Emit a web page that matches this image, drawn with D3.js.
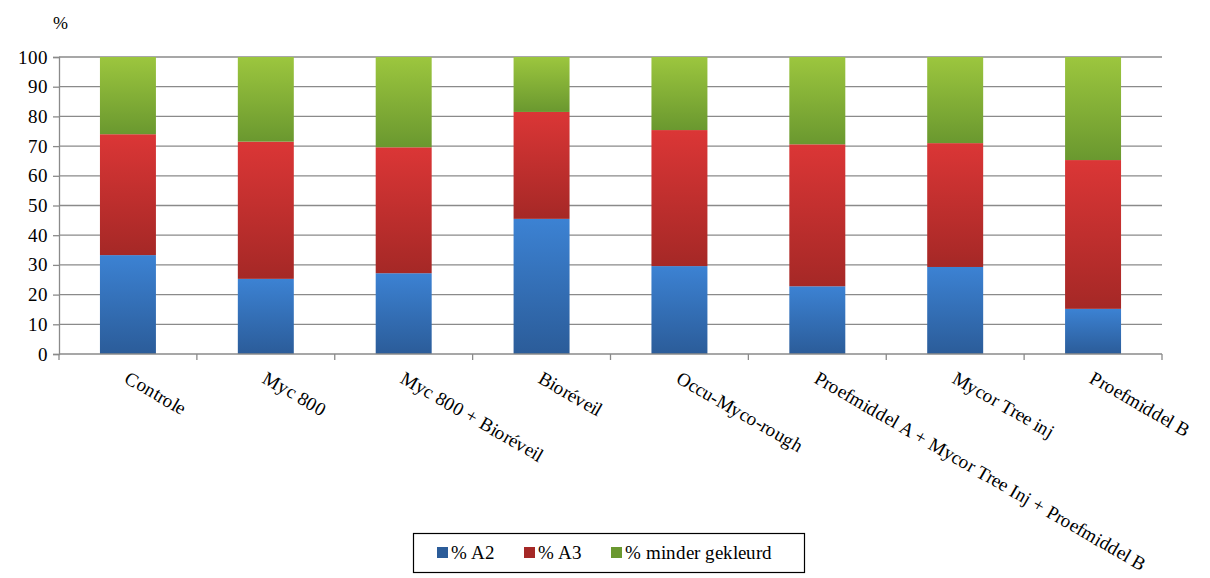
<!DOCTYPE html>
<html><head><meta charset="utf-8">
<script src="https://cdn.jsdelivr.net/npm/d3@7"></script>
<style>
@font-face{font-family:"ChartSerif";src:local("Liberation Serif"),local("LiberationSerif"),local("Times New Roman");}
#c text{font-family:"ChartSerif","Liberation Serif","Times New Roman",serif !important;}
</style>
</head><body style="margin:0;background:#fff">
<svg id="c" width="1210" height="578" style="display:block" font-family="Liberation Serif"></svg>
<script>
const categories = ["Controle","Myc 800","Myc 800 + Bioréveil","Bioréveil","Occu-Myco-rough","Proefmiddel A + Mycor Tree Inj + Proefmiddel B","Mycor Tree inj","Proefmiddel B"];
const seriesNames = ["% A2","% A3","% minder gekleurd"];
const a2 = [33.3,25.3,27.2,45.5,29.6,22.8,29.3,15.2];
const a3 = [40.7,46.2,42.4,36.0,45.8,47.8,41.7,50.1];
const minder = [26.0,28.5,30.4,18.5,24.6,29.4,29.0,34.7];
const yTicks = [0,10,20,30,40,50,60,70,80,90,100];

const FF = "Liberation Serif";
const svg = d3.select("#c");
const mL = 59, mR = 1162, mT = 57, mB = 354;
const x = d3.scaleBand().domain(categories).range([mL, mR]).paddingInner(0.594).paddingOuter(0.297);
const y = d3.scaleLinear().domain([0,100]).range([mB, mT]);

const defs = svg.append("defs");
const cols = [["#3c82d3","#2b5c99"],["#db3636","#a52826"],["#9cc63e","#6a982f"]];
cols.forEach((c,i)=>{
  const g = defs.append("linearGradient").attr("id","g"+i).attr("x1",0).attr("y1",0).attr("x2",0).attr("y2",1);
  g.append("stop").attr("offset","0%").attr("stop-color",c[0]);
  g.append("stop").attr("offset","100%").attr("stop-color",c[1]);
});

function setFont(sel, size){
  sel.attr("font-family",FF).attr("font-size",size)
     .style("font-size",size+"px");
  return sel;
}

// gridlines
svg.append("g").selectAll("line").data(yTicks.filter(d=>d>0)).join("line")
  .attr("x1",mL).attr("x2",mR).attr("y1",d=>y(d)).attr("y2",d=>y(d))
  .attr("stroke","#8a8a8a").attr("stroke-width",1.3);

// y axis
const yAxis = svg.append("g").attr("transform",`translate(${mL},0)`)
  .call(d3.axisLeft(y).tickValues(yTicks).tickSize(6).tickPadding(5));
yAxis.attr("font-family",FF).attr("font-size",19);
yAxis.select(".domain").attr("stroke","#8a8a8a").attr("stroke-width",1.3);
yAxis.selectAll(".tick line").attr("stroke","#8a8a8a").attr("stroke-width",1.3);
setFont(yAxis.selectAll("text"),19).attr("fill","#000");

// stacked data
const rows = categories.map((c,i)=>({cat:c, s0:a2[i], s1:a3[i], s2:minder[i]}));
const stack = d3.stack().keys(["s0","s1","s2"])(rows);
stack.forEach((layer,li)=>{
  svg.append("g").selectAll("rect").data(layer).join("rect")
    .attr("x",d=>x(d.data.cat)).attr("width",x.bandwidth())
    .attr("y",d=>y(Math.min(d[1],100))).attr("height",d=>y(d[0])-y(Math.min(d[1],100)))
    .attr("fill",`url(#g${li})`);
});

// x axis
const step = x.step();
const xAxis = svg.append("g");
xAxis.append("line").attr("x1",mL).attr("x2",mR).attr("y1",mB).attr("y2",mB)
  .attr("stroke","#8a8a8a").attr("stroke-width",1.3);
const tickPos = d3.range(categories.length+1).map(i=>mL+i*step);
xAxis.selectAll(".xt").data(tickPos).join("line").attr("class","xt")
  .attr("x1",d=>d).attr("x2",d=>d).attr("y1",mB).attr("y2",mB+6)
  .attr("stroke","#8a8a8a").attr("stroke-width",1.3);
setFont(xAxis.selectAll("text").data(categories).join("text"),19)
  .attr("transform",d=>`translate(${x(d)+x.bandwidth()/2+2},${mB+16}) rotate(30)`)
  .attr("text-anchor","start").attr("dy","0.7em")
  .text(d=>d);

// % label
setFont(svg.append("text"),18).attr("x",53).attr("y",29).text("%");

// legend
const lg = svg.append("g");
lg.append("rect").attr("x",413.5).attr("y",533.5).attr("width",391).attr("height",39)
  .attr("fill","#fff").attr("stroke","#000").attr("stroke-width",1.2);
const items = [{n:seriesNames[0],x:437,c:0},{n:seriesNames[1],x:524,c:1},{n:seriesNames[2],x:611,c:2}];
items.forEach(it=>{
  lg.append("rect").attr("x",it.x).attr("y",547).attr("width",11).attr("height",11).attr("fill",cols[it.c][1]);
  setFont(lg.append("text"),19).attr("x",it.x+14).attr("y",559).text(it.n);
});
</script>
</body></html>
